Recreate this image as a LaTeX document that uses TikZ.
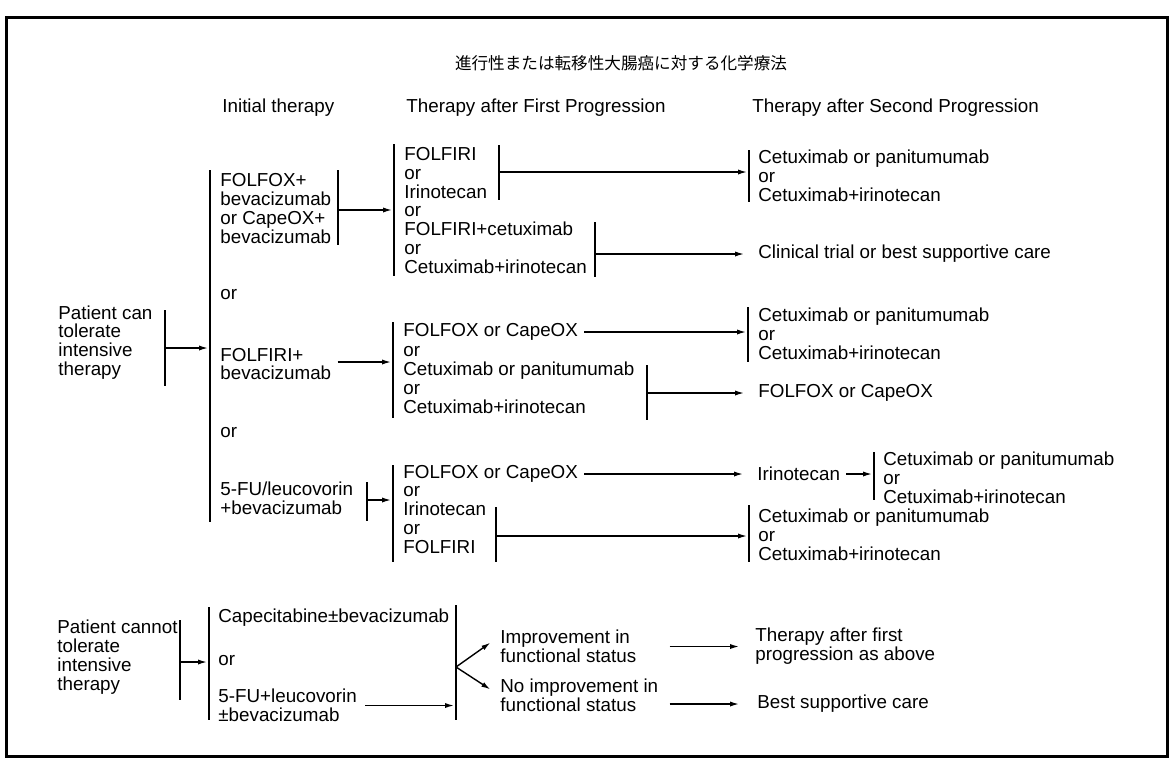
\documentclass[tikz,border=0pt]{standalone}
\usepackage{fontspec}
\setmainfont{Liberation Sans}
\newfontfamily\cjk{Noto Sans CJK JP}
\usetikzlibrary{arrows.meta}
\tikzset{
	txt/.style={font=\fontsize{9.4}{9.4}\selectfont, align=left, anchor=west, inner sep=0pt},
	bar/.style={line width=0.7pt},
	arr/.style={line width=0.7pt, ->, shorten >=1pt},
}
\begin{document}
\begin{tikzpicture}[x=0.5pt, y=-0.5pt, >={Latex[length=4.5pt, width=2.6pt]}]
	\useasboundingbox (0,0) rectangle (1170,761);
	\draw[line width=1.5pt] (6,17) rectangle (1167,756);
	\node[font=\cjk\fontsize{8.3}{10}\selectfont, inner sep=0pt] (title) at (621,63) {進行性または転移性大腸癌に対する化学療法};
	\node[txt] (hinit) at (222,108) {Initial therapy};
	\node[txt] (hfirst) at (406,108) {Therapy after First Progression};
	\node[txt] (hsecond) at (752,108) {Therapy after Second Progression};

	\node[txt] (can) at (58,342.5) {Patient can\\tolerate\\intensive\\therapy};
	\node[txt] (foxbev) at (220,208.5) {FOLFOX+\\bevacizumab\\or CapeOX+\\bevacizumab};
	\node[txt] (or1) at (220,295) {or};
	\node[txt] (firibev) at (220,364) {FOLFIRI+\\bevacizumab};
	\node[txt] (or2) at (220,433) {or};
	\node[txt] (fubev) at (220,498) {5-FU/leucovorin\\+bevacizumab};

	\node[txt] (fa) at (404,210.5) {FOLFIRI\\or\\Irinotecan\\or\\FOLFIRI+cetuximab\\or\\Cetuximab+irinotecan};
	\node[txt] (sa) at (758,175.5) {Cetuximab or panitumumab\\or\\Cetuximab+irinotecan};
	\node[txt] (trial) at (758,254) {Clinical trial or best supportive care};

	\node[txt] (fb1) at (403,332) {FOLFOX or CapeOX};
	\node[txt] (fb2) at (403,380) {or\\Cetuximab or panitumumab\\or\\Cetuximab+irinotecan};
	\node[txt] (sb) at (758,334) {Cetuximab or panitumumab\\or\\Cetuximab+irinotecan};
	\node[txt] (sbox) at (758,393) {FOLFOX or CapeOX};

	\node[txt] (fc1) at (403,474) {FOLFOX or CapeOX};
	\node[txt] (fc2) at (403,520) {or\\Irinotecan\\or\\FOLFIRI};
	\node[txt] (iri) at (757,474) {Irinotecan};
	\node[txt] (sc1) at (883,478) {Cetuximab or panitumumab\\or\\Cetuximab+irinotecan};
	\node[txt] (sc2) at (758,534.5) {Cetuximab or panitumumab\\or\\Cetuximab+irinotecan};

	\node[txt] (cannot) at (57,657) {Patient cannot\\tolerate\\intensive\\therapy};
	\node[txt] (cape) at (218,618) {Capecitabine±bevacizumab};
	\node[txt] (or3) at (218,661) {or};
	\node[txt] (fuleu) at (218,705.5) {5-FU+leucovorin\\±bevacizumab};
	\node[txt] (impr) at (500,646.5) {Improvement in\\functional status};
	\node[txt] (noimpr) at (500,695.5) {No improvement in\\functional status};
	\node[txt] (asabove) at (755,646.5) {Therapy after first\\progression as above};
	\node[txt] (bsc) at (757,704) {Best supportive care};

	\draw[bar] (165,310) -- (165,386);
	\draw[bar] (210,170) -- (210,522);
	\draw[bar] (338,170) -- (338,245);
	\draw[bar] (367,482) -- (367,521);
	\draw[bar] (394,144) -- (394,276);
	\draw[bar] (499,145) -- (499,200);
	\draw[bar] (595,222) -- (595,277);
	\draw[bar] (749,150) -- (749,202);
	\draw[bar] (393,322) -- (393,418);
	\draw[bar] (647,365) -- (647,420);
	\draw[bar] (748,307) -- (748,362);
	\draw[bar] (393,465) -- (393,562);
	\draw[bar] (496,507) -- (496,562);
	\draw[bar] (874,452) -- (874,500);
	\draw[bar] (749,505) -- (749,562);
	\draw[bar] (180,620) -- (180,700);
	\draw[bar] (209,607) -- (209,720);
	\draw[bar] (456,605) -- (456,720);

	\coordinate (canbar) at (165,348);
	\coordinate (initbar) at (210,348);
	\coordinate (foxbar) at (338,210);
	\coordinate (fabar) at (394,210);
	\coordinate (fubar) at (367,500);
	\coordinate (fbbar) at (393,362);
	\coordinate (fcbar) at (393,500);
	\coordinate (fa1bar) at (499,172);
	\coordinate (fa2bar) at (595,254);
	\coordinate (sabar) at (749,172);
	\coordinate (fb2bar) at (647,393);
	\coordinate (sbbar) at (748,332);
	\coordinate (sc1bar) at (874,474);
	\coordinate (fc2bar) at (496,536);
	\coordinate (sc2bar) at (749,536);
	\coordinate (cnbar) at (180,662);
	\coordinate (botbar) at (209,662);
	\coordinate (fork) at (456,667);

	\draw[arr] (canbar) -- (initbar);
	\draw[arr] (foxbar) -- (fabar);
	\draw[arr] ([xshift=3pt]firibev.east |- fbbar) -- (fbbar);
	\draw[arr] (fubar) -- (fcbar);
	\draw[arr] (fa1bar) -- (sabar);
	\draw[arr] (fa2bar) -- ([xshift=-6pt]trial.west);
	\draw[arr] ([xshift=3pt]fb1.east) -- (sbbar);
	\draw[arr] (fb2bar) -- ([xshift=-6pt]sbox.west);
	\draw[arr] ([xshift=3pt]fc1.east) -- ([xshift=-6pt]iri.west);
	\draw[arr] ([xshift=3pt]iri.east) -- (sc1bar);
	\draw[arr] (fc2bar) -- (sc2bar);
	\draw[arr] (cnbar) -- (botbar);
	\draw[arr] ([xshift=4pt]fuleu.east) -- (fork |- fuleu.east);
	\draw[arr] (fork) -- ([xshift=-4pt, yshift=2.5pt]impr.west);
	\draw[arr] (fork) -- ([xshift=-4pt, yshift=2.5pt]noimpr.west);
	\draw[arr] ([xshift=5.5pt]noimpr.east |- impr.east) -- ([xshift=-7pt]asabove.west);
	\draw[arr] ([xshift=5.5pt]noimpr.east |- bsc.west) -- ([xshift=-8pt]bsc.west);
\end{tikzpicture}
\end{document}
